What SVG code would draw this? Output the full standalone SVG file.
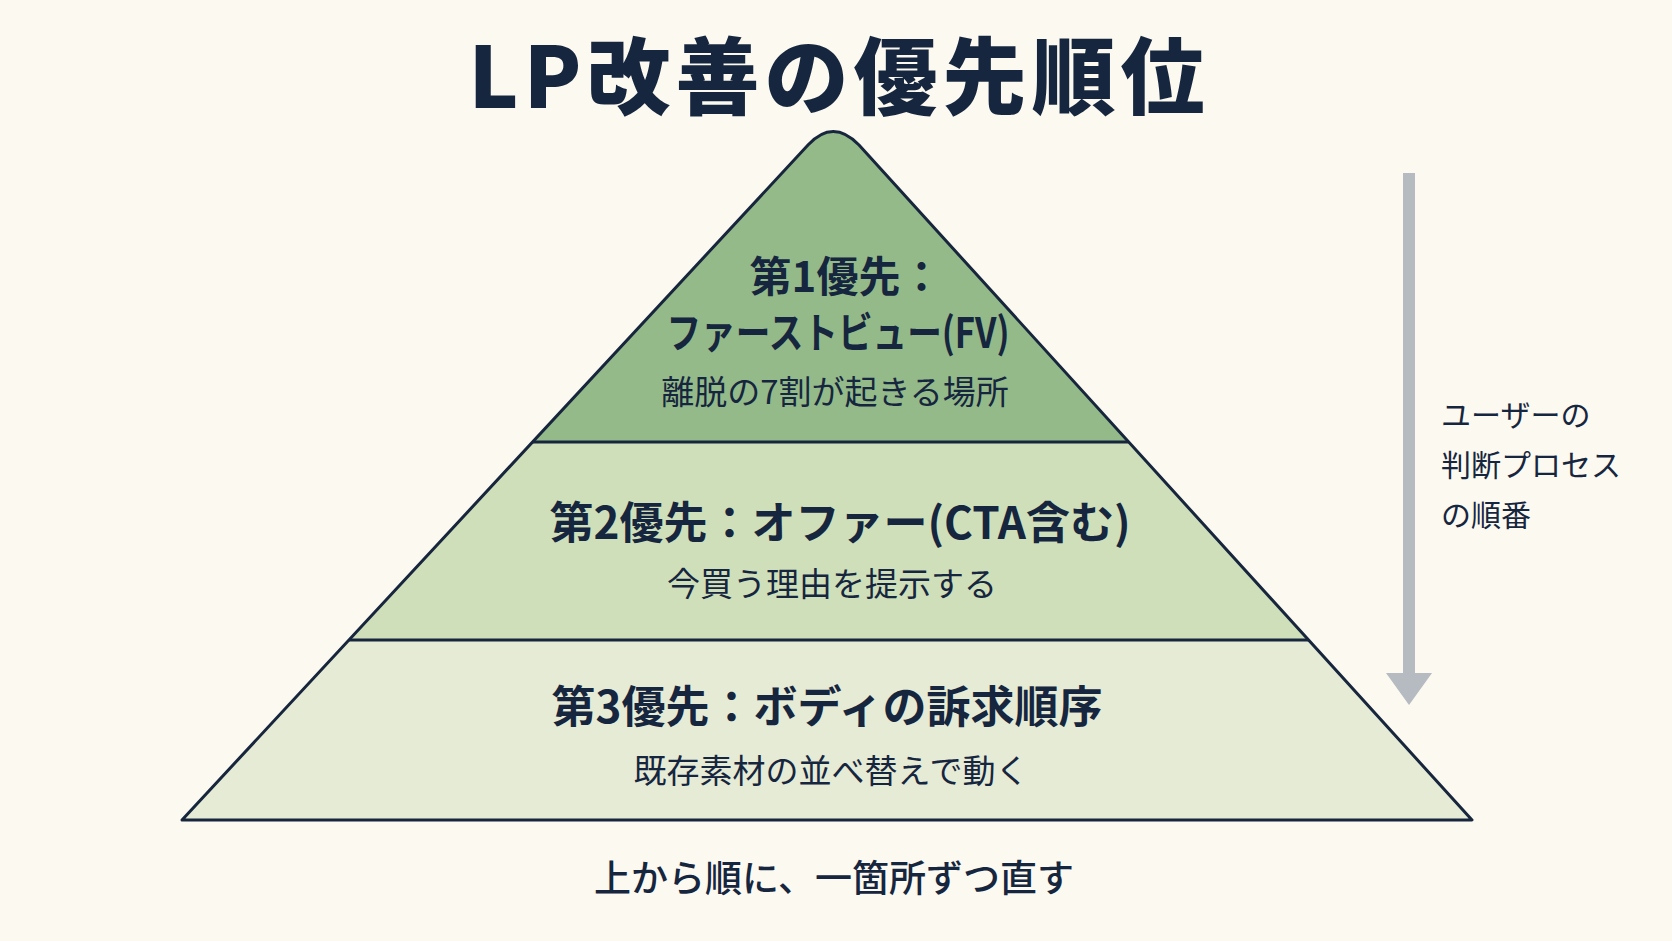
<svg xmlns="http://www.w3.org/2000/svg" width="1672" height="941" viewBox="0 0 1672 941">
  <style>
    .jp { font-family: "Noto Sans CJK JP", "Noto Sans", sans-serif; fill: #16263e; }
    .title { font-size: 84px; font-weight: 900; letter-spacing: 5px; text-anchor: middle; }
    .head { font-weight: 700; text-anchor: middle; }
    .sub { font-size: 33px; font-weight: 400; text-anchor: middle; }
    .side { font-size: 30px; font-weight: 400; }
    .foot { font-size: 37px; font-weight: 500; text-anchor: middle; }
    .edge { fill: none; stroke: #17263d; stroke-width: 3; stroke-linejoin: round; }
  </style>
  <rect width="1672" height="941" fill="#fcf9f0"/>

  <text class="jp title" x="839" y="108">LP改善の優先順位</text>

  <g id="tier1">
    <path d="M532.6 442 L808 145 Q833 118 859 145 L1128.7 442 Z" fill="#94ba8a"/>
    <text class="jp head" x="846" y="292" font-size="42">第1優先：</text>
    <text class="jp head" x="838" y="348" font-size="42" textLength="343" lengthAdjust="spacingAndGlyphs">ファーストビュー(FV)</text>
    <text class="jp sub" x="835" y="404" font-size="32">離脱の7割が起きる場所</text>
  </g>

  <g id="tier2">
    <path d="M532.6 442 L1128.7 442 L1308.5 640 L349 640 Z" fill="#cfdfba"/>
    <text class="jp head" x="840" y="539" font-size="44">第2優先：オファー(CTA含む)</text>
    <text class="jp sub" x="832" y="596">今買う理由を提示する</text>
  </g>

  <g id="tier3">
    <path d="M349 640 L1308.5 640 L1472 820 L182 820 Z" fill="#e6ebd6"/>
    <text class="jp head" x="827" y="723" font-size="44">第3優先：ボディの訴求順序</text>
    <text class="jp sub" x="831" y="783">既存素材の並べ替えで動く</text>
  </g>

  <g id="pyramid-outline">
    <path class="edge" d="M182 820 L808 145 Q833 118 859 145 L1472 820 Z"/>
    <line class="edge" x1="532.6" y1="442" x2="1128.7" y2="442"/>
    <line class="edge" x1="349" y1="640" x2="1308.5" y2="640"/>
  </g>

  <g id="connectors">
    <rect x="1403" y="173" width="12" height="502" fill="#b5bbc1"/>
    <path d="M1386 673 L1432 673 L1409 705 Z" fill="#b5bbc1"/>
  </g>

  <g id="side-label">
    <text class="jp side" x="1441" y="426">ユーザーの</text>
    <text class="jp side" x="1441" y="476">判断プロセス</text>
    <text class="jp side" x="1441" y="526">の順番</text>
  </g>

  <g id="footer">
    <text class="jp foot" x="834" y="892">上から順に、一箇所ずつ直す</text>
  </g>
</svg>
